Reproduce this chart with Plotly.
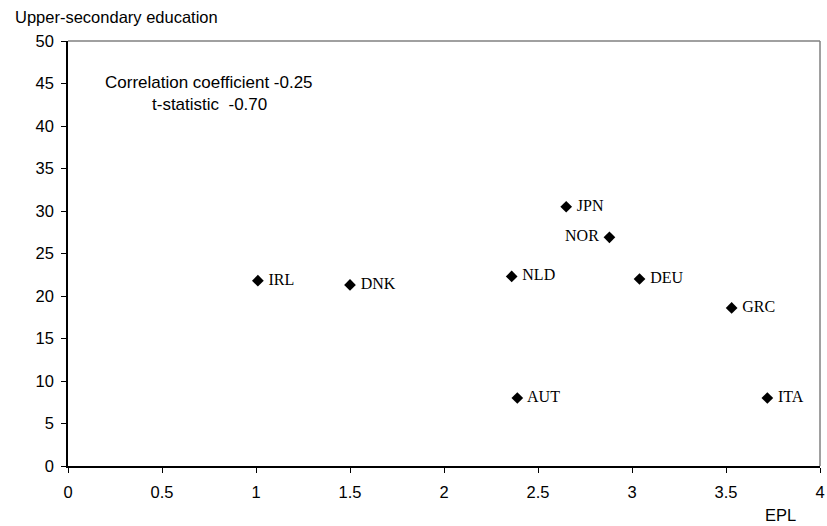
import plotly.graph_objects as go

countries = ["IRL", "DNK", "NLD", "JPN", "NOR", "DEU", "GRC", "AUT", "ITA"]
epl = [1.01, 1.50, 2.36, 2.65, 2.88, 3.04, 3.53, 2.39, 3.72]
upper_sec = [21.8, 21.3, 22.3, 30.5, 26.9, 22.0, 18.6, 8.0, 8.0]
label_pos = ["middle right"] * 4 + ["middle left"] + ["middle right"] * 4

x_ticks = [0, 0.5, 1, 1.5, 2, 2.5, 3, 3.5, 4]
x_tick_text = ["0", "0.5", "1", "1.5", "2", "2.5", "3", "3.5", "4"]
y_ticks = list(range(0, 55, 5))

fig = go.Figure()
fig.add_trace(go.Scatter(
    x=epl, y=upper_sec, mode="markers+text",
    text=[" " + c if p == "middle right" else c + " " for c, p in zip(countries, label_pos)],
    textposition=label_pos,
    textfont=dict(family="Liberation Serif, Times New Roman, serif", size=16, color="black"),
    marker=dict(symbol="diamond", size=9, color="black"),
    showlegend=False, cliponaxis=False,
))

tickfont = dict(family="Liberation Sans, Arial, sans-serif", size=16.5, color="black")
annfont = dict(family="Liberation Sans, Arial, sans-serif", size=17, color="black")
fig.update_layout(
    width=827, height=526,
    margin=dict(l=68, r=7, t=41, b=60),
    paper_bgcolor="white", plot_bgcolor="white",
    xaxis=dict(range=[0, 4], tickvals=x_ticks, ticktext=x_tick_text, showgrid=False, zeroline=False,
               showline=True, linecolor="black", linewidth=1.5, ticks="outside", ticklen=5,
               tickcolor="black", tickfont=tickfont, automargin=False, ticklabelstandoff=5),
    yaxis=dict(range=[0, 50], tickvals=y_ticks, showgrid=False, zeroline=False,
               showline=True, linecolor="black", linewidth=1.5, ticks="outside", ticklen=5,
               tickcolor="black", tickfont=tickfont, automargin=False, ticklabelstandoff=4),
    shapes=[
        dict(type="line", xref="paper", yref="paper", x0=0, x1=1, y0=1, y1=1,
             line=dict(color="#808080", width=1.5)),
        dict(type="line", xref="paper", yref="paper", x0=1, x1=1, y0=0, y1=1,
             line=dict(color="#808080", width=1.5)),
    ],
    annotations=[
        dict(text="Upper-secondary education", xref="paper", yref="paper", x=-0.073, y=1.03,
             xanchor="left", yanchor="bottom", showarrow=False, font=tickfont),
        dict(text="EPL", xref="paper", yref="paper", x=0.947, y=-0.09,
             xanchor="center", yanchor="top", showarrow=False, font=tickfont),
        dict(text="Correlation coefficient -0.25", xref="x", yref="y", x=0.75, y=45.1,
             xanchor="center", yanchor="middle", showarrow=False, font=annfont),
        dict(text="t-statistic  -0.70", xref="x", yref="y", x=0.75, y=42.5,
             xanchor="center", yanchor="middle", showarrow=False, font=annfont),
    ],
)
fig.write_html("out.html", config={"displayModeBar": False},
               post_script="document.body.style.margin='0';document.body.style.overflow='hidden';")
